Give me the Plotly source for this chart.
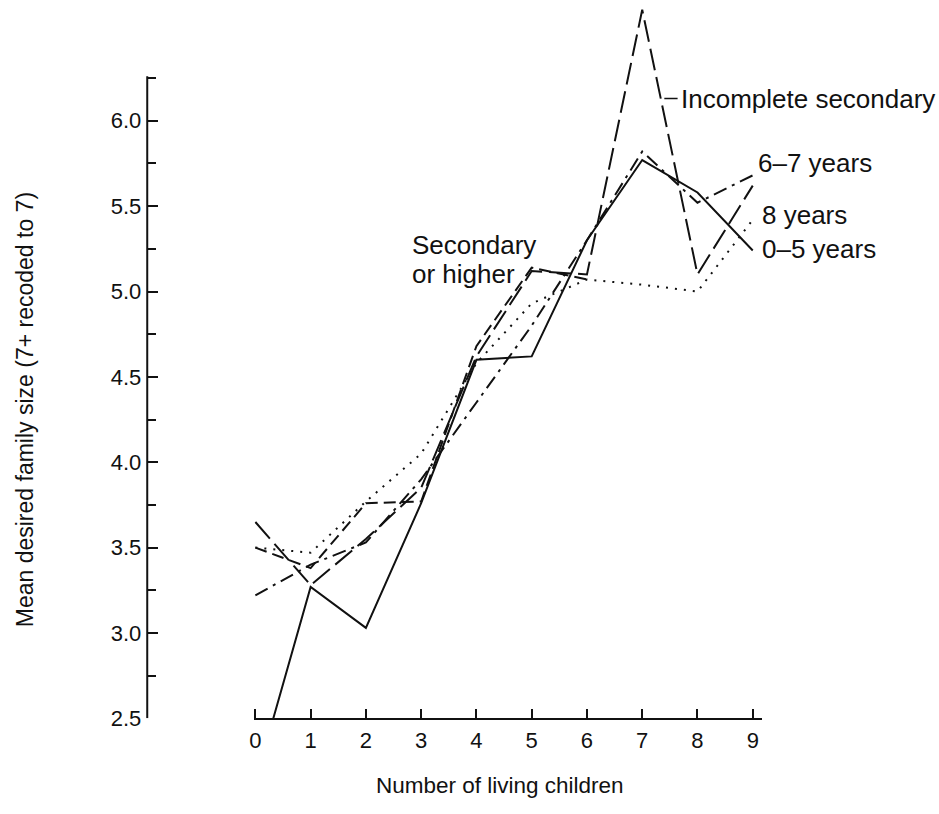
import plotly.graph_objects as go

# ---- data ----
children = [0, 1, 2, 3, 4, 5, 6, 7, 8, 9]
children_secondary = [0, 1, 2, 3, 4, 5, 6]

yrs_0_5 = [2.13, 3.27, 3.03, 3.76, 4.60, 4.62, 5.30, 5.77, 5.58, 5.24]
yrs_6_7 = [3.22, 3.40, 3.53, 3.90, 4.35, 4.80, 5.30, 5.82, 5.52, 5.68]
yrs_8 = [3.50, 3.47, 3.77, 4.05, 4.58, 4.93, 5.07, 5.04, 5.00, 5.42]
incomplete_secondary = [3.65, 3.28, 3.55, 3.85, 4.62, 5.12, 5.10, 6.65, 5.10, 5.62]
secondary_higher = [3.50, 3.38, 3.76, 3.77, 4.68, 5.14, 5.07]

y_major = [2.5, 3.0, 3.5, 4.0, 4.5, 5.0, 5.5, 6.0]
y_major_text = ["2.5", "3.0", "3.5", "4.0", "4.5", "5.0", "5.5", "6.0"]
y_minor = [2.75, 3.25, 3.75, 4.25, 4.75, 5.25, 5.75, 6.25]

W, H = 939, 814
FONT = "Liberation Sans, Arial, Helvetica, sans-serif"
INK = "#111111"

fig = go.Figure()

def add_line(x, y, dash, name):
    fig.add_trace(go.Scatter(x=x, y=y, mode="lines", name=name,
                             line=dict(color=INK, width=2, dash=dash),
                             showlegend=False, hoverinfo="skip"))

add_line(children, yrs_0_5, "solid", "0–5 years")
add_line(children, yrs_6_7, "14px,6px,3px,6px", "6–7 years")
add_line(children, yrs_8, "2px,7px", "8 years")
add_line(children, incomplete_secondary, "22px,7px", "Incomplete secondary")
add_line(children_secondary, secondary_higher, "12px,6px", "Secondary or higher")

# pixel helpers for layout domains
x0_px, x1_px = 250.6, 761.2
y_bot_px, y_top_px = 730, 3
yaxis_px = 143

fig.update_layout(
    width=W, height=H,
    margin=dict(l=0, r=0, t=0, b=0),
    paper_bgcolor="white", plot_bgcolor="white",
    font=dict(family=FONT, color=INK, size=22),
    xaxis=dict(
        domain=[x0_px / W, x1_px / W],
        range=[-0.02, 9.17],
        tickmode="array", tickvals=children, ticktext=[str(c) for c in children],
        ticks="inside", ticklen=9, tickwidth=2, tickcolor=INK,
        showline=True, linewidth=2, linecolor=INK,
        showgrid=False, zeroline=False,
        tickfont=dict(size=22, family=FONT, color=INK),
        ticklabelstandoff=1,
        anchor="y",
    ),
    yaxis=dict(
        domain=[1 - y_bot_px / H, 1 - y_top_px / H],
        range=[2.5, 6.69],
        anchor="free", position=yaxis_px / W,
        tickmode="array", tickvals=y_major, ticktext=y_major_text,
        ticks="inside", ticklen=10, tickwidth=2, tickcolor=INK,
        minor=dict(tickmode="array", tickvals=y_minor, ticks="inside",
                   ticklen=8, tickwidth=2, tickcolor=INK),
        showline=False, showgrid=False, zeroline=False,
        tickfont=dict(size=22, family=FONT, color=INK),
        ticklabelstandoff=6,
    ),
)

# visible y axis line (stops at 6.26, below the plot top)
fig.add_shape(type="line", xref="paper", yref="y",
              x0=yaxis_px / W, x1=yaxis_px / W, y0=2.5, y1=6.26,
              line=dict(color=INK, width=2))

# leader for "Incomplete secondary"
fig.add_shape(type="line", xref="x", yref="y", x0=7.40, x1=7.64, y0=6.13, y1=6.13,
              line=dict(color=INK, width=1.5))

labels = [
    ("Incomplete secondary", 7.66, 6.13),
    ("6–7 years", 9.06, 5.75),
    ("8 years", 9.13, 5.45),
    ("0–5 years", 9.13, 5.25),
    ("Secondary", 2.79, 5.275),
    ("or higher", 2.79, 5.10),
]
for txt, lx, ly in labels:
    fig.add_annotation(x=lx, y=ly, xref="x", yref="y", text=txt, showarrow=False,
                       xanchor="left", yanchor="middle",
                       font=dict(size=26, family=FONT, color=INK))

fig.add_annotation(x=498 / W, y=1 - 798 / H, xref="paper", yref="paper",
                   text="Number of living children", showarrow=False,
                   xanchor="center", yanchor="middle",
                   font=dict(size=22.5, family=FONT, color=INK))
fig.add_annotation(x=20 / W, y=1 - 416 / H, xref="paper", yref="paper",
                   text="Mean desired family size (7+ recoded to 7)", showarrow=False,
                   textangle=-90, xanchor="center", yanchor="middle",
                   font=dict(size=23, family=FONT, color=INK))

fig.write_html("out.html")
